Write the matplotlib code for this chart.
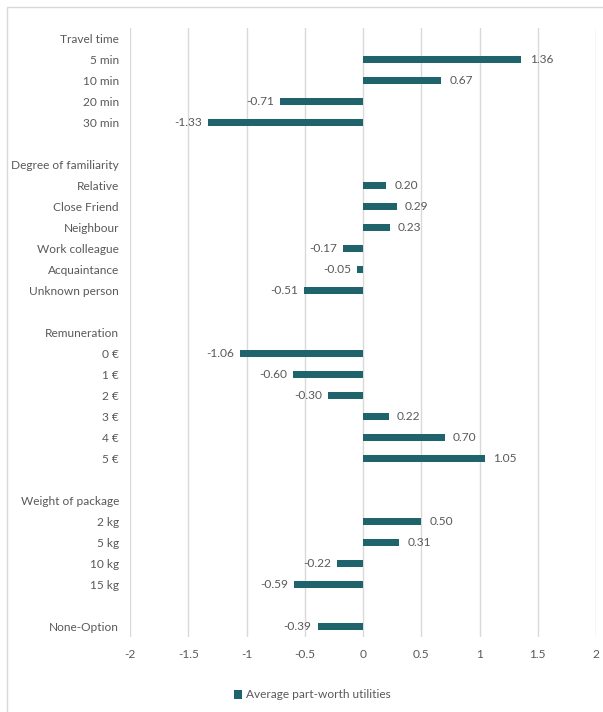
import numpy as np
import matplotlib.pyplot as plt
from matplotlib.patches import Rectangle

plt.rcParams['font.family'] = ['Lato', 'DejaVu Sans']

labels = ["Travel time", "5 min", "10 min", "20 min", "30 min", "",
          "Degree of familiarity", "Relative", "Close Friend", "Neighbour",
          "Work colleague", "Acquaintance", "Unknown person", "",
          "Remuneration", "0 €", "1 €", "2 €", "3 €", "4 €", "5 €", "",
          "Weight of package", "2 kg", "5 kg", "10 kg", "15 kg", "",
          "None-Option"]
values = [np.nan, 1.36, 0.67, -0.71, -1.33, np.nan,
          np.nan, 0.20, 0.29, 0.23, -0.17, -0.05, -0.51, np.nan,
          np.nan, -1.06, -0.60, -0.30, 0.22, 0.70, 1.05, np.nan,
          np.nan, 0.50, 0.31, -0.22, -0.59, np.nan,
          -0.39]
xticks = [-2, -1.5, -1, -0.5, 0, 0.5, 1, 1.5, 2]

bar_color = '#1f646c'
text_color = '#595959'
fs = 8.6

fig = plt.figure(figsize=(6.03, 7.12), dpi=100)
fig.patches.append(Rectangle((7 / 603, -0.1), 1.2, 1 - 7 / 712 + 0.1,
                             transform=fig.transFigure, fill=False,
                             edgecolor='#d9d9d9', linewidth=1))
ax = fig.add_axes([130 / 603, 1 - 637 / 712, 466 / 603, 609 / 712])

y = np.arange(len(labels))
vals = np.array(values, dtype=float)
ax.barh(y, np.nan_to_num(vals), height=0.36, color=bar_color, zorder=3,
        label='Average part-worth utilities')

for yi, v in zip(y, vals):
    if np.isnan(v):
        continue
    if v >= 0:
        ax.text(v + 0.07, yi, f"{v:.2f}", ha='left', va='center',
                fontsize=fs, color=text_color)
    else:
        ax.text(v - 0.05, yi, f"{v:.2f}", ha='right', va='center',
                fontsize=fs, color=text_color)

ax.set_xlim(-2, 2)
ax.set_ylim(len(labels) - 0.5, -0.5)
ax.set_yticks(y)
ax.set_yticklabels(labels, fontsize=fs, color=text_color)
ax.set_xticks(xticks)
ax.set_xticklabels([f"{t:g}" for t in xticks], fontsize=fs, color=text_color)
ax.tick_params(axis='both', length=0)
ax.tick_params(axis='y', pad=8)
ax.tick_params(axis='x', pad=9)
ax.grid(axis='x', color='#d9d9d9', linewidth=1, zorder=0)
for s in ax.spines.values():
    s.set_visible(False)

fig.legend(loc='center', bbox_to_anchor=(312 / 603, 1 - 695 / 712),
           frameon=False, fontsize=fs, labelcolor=text_color,
           handlelength=0.7, handleheight=0.7, handletextpad=0.3)

fig.savefig('out.png', dpi=100)
